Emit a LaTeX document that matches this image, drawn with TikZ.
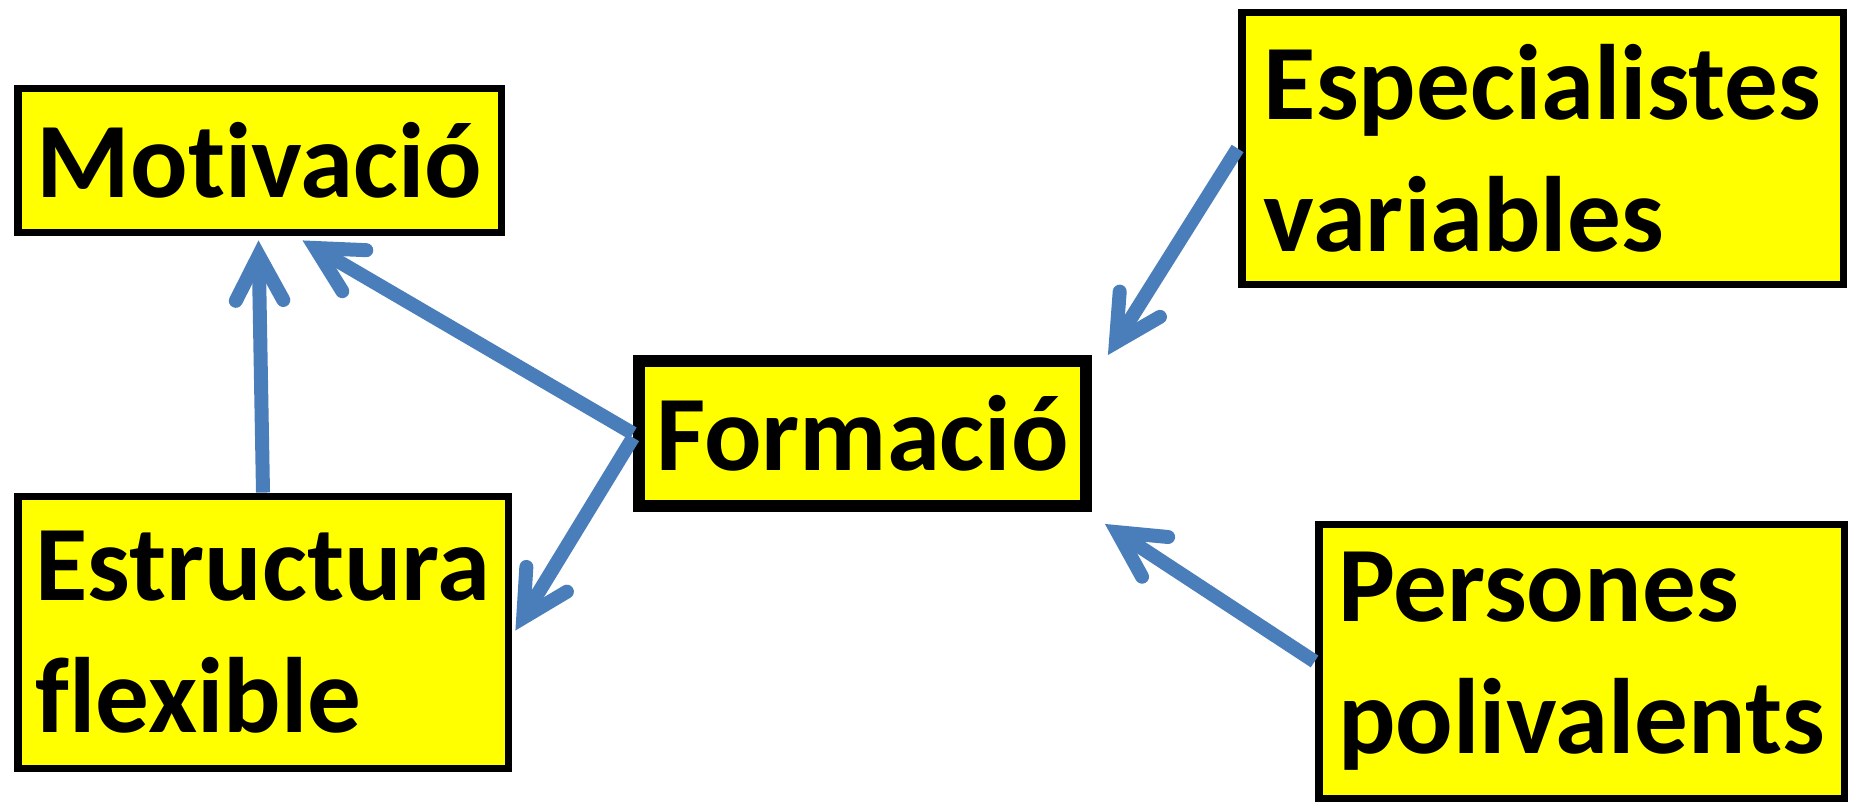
\documentclass[tikz,border=0pt]{standalone}
\usepackage{fontspec}
\setmainfont[Ligatures=NoCommon]{Carlito}
\usetikzlibrary{arrows.meta,calc}
\definecolor{arrowblue}{RGB}{74,126,187}
\definecolor{boxyellow}{RGB}{255,255,0}
\begin{document}
\begin{tikzpicture}[x=0.02cm, y=-0.02cm,
    box/.style={draw=black, fill=boxyellow, line width=4.5pt, inner sep=0pt,
        align=left, font=\fontsize{61}{75}\selectfont\bfseries},
    link/.style={draw=arrowblue, line width=0.28cm,
        -{Straight Barb[length=0.9cm,width=0.95cm,line cap=round,line join=miter]}}]
\useasboundingbox (0,0) rectangle (1854,804);

\node[box, minimum width=9.68cm, minimum height=2.88cm] (mot) at (259.5,160.5) {Motivació};
\node[box, line width=6.8pt, minimum width=8.94cm, minimum height=2.9cm] (form) at (862.5,433.5) {Formació};
\node[box, minimum width=12.04cm, minimum height=5.44cm] (esp) at (1542.5,148.5) {Especialistes\\variables};
\node[box, minimum width=10.52cm, minimum height=5.48cm] (pers) at (1581.5,661.5) {Persones\\polivalents};
\node[box, minimum width=9.82cm, minimum height=5.44cm] (est) at (263,632.5) {Estructura\\flexible};

\draw[link] (est.north) -- ($(mot.south)+(-1,4)$);
\draw[link] (form.west) -- ($(mot.south)+(43,4)$);
\draw[link] ($(form.west)+(0,4)$) -- ($(est.east)+(3,-2)$);
\draw[link] (esp.west) -- ($(form.north east)+(16,0)$);
\draw[link] (pers.west) -- ($(form.south east)+(13,12)$);
\end{tikzpicture}
\end{document}
